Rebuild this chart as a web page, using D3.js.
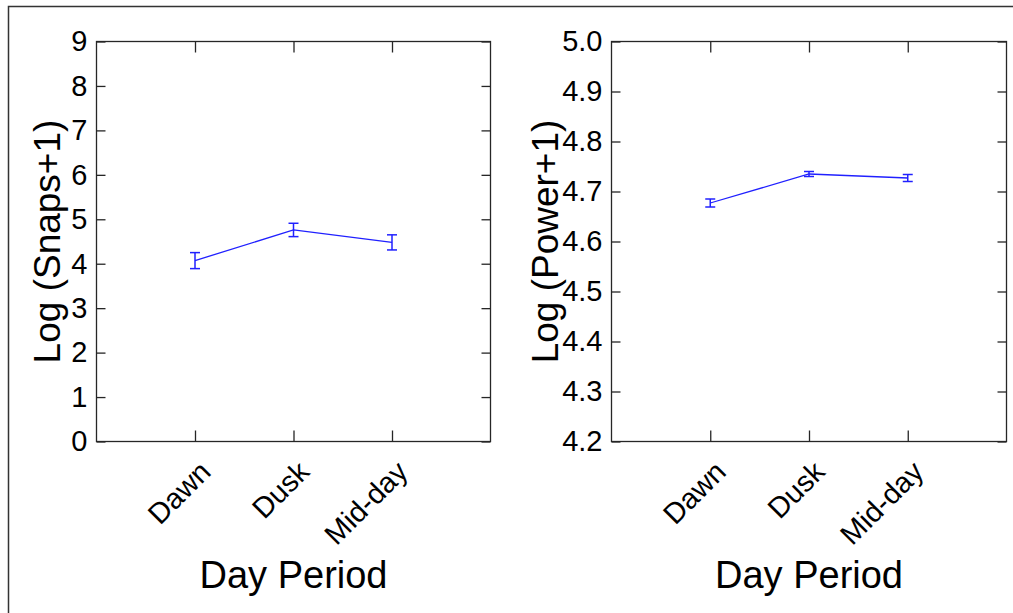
<!DOCTYPE html>
<html>
<head>
<meta charset="utf-8">
<script src="https://cdn.jsdelivr.net/npm/d3@7"></script>
<style>
  body { margin: 0; background: #fff; }
  text { font-family: "Liberation Sans", Arial, sans-serif; fill: #000; }
</style>
</head>
<body>
<div id="chart"></div>
<script>
// Categories and values
var periods = ["Dawn", "Dusk", "Mid-day"];
var snapsMean = [4.07, 4.76, 4.48];
var snapsErr = [0.18, 0.15, 0.17];
var powerMean = [4.677, 4.735, 4.727];
var powerErr = [0.008, 0.005, 0.007];
var snapsTicks = [0, 1, 2, 3, 4, 5, 6, 7, 8, 9];
var powerTicks = [4.2, 4.3, 4.4, 4.5, 4.6, 4.7, 4.8, 4.9, 5.0];

var svgWidth = 1013;
var svgHeight = 613;

var svg = d3.select("#chart")
  .append("svg")
  .attr("width", svgWidth)
  .attr("height", svgHeight);

// outer frame
svg.append("path")
  .attr("d", "M8.5,613 V6.5 H1013")
  .attr("fill", "none")
  .attr("stroke", "#333")
  .attr("stroke-width", 1.5);

var plotTop = 41.5;
var plotBottom = 441.5;

function drawPanel(left, right, means, errs, yDomain, yTicks, yFmt, yTitle, titleOffset) {
  var g = svg.append("g");

  var x = d3.scaleLinear().domain([0, 4]).range([left, right]);
  var y = d3.scaleLinear().domain(yDomain).range([plotBottom, plotTop]);

  // box
  g.append("rect")
    .attr("x", left)
    .attr("y", plotTop)
    .attr("width", right - left)
    .attr("height", plotBottom - plotTop)
    .attr("fill", "none")
    .attr("stroke", "#262626")
    .attr("stroke-width", 1.3);

  // y axis left with inward ticks
  var leftAxis = d3.axisLeft(y).tickValues(yTicks).tickFormat(d3.format(yFmt))
    .tickSize(-9).tickPadding(9);
  var yAxisG = g.append("g")
    .attr("transform", `translate(${left}, 0)`)
    .call(leftAxis);
  yAxisG.select(".domain").remove();
  yAxisG.selectAll("text").attr("font-size", "29px").attr("fill", "#000");
  yAxisG.selectAll("line").attr("stroke", "#262626").attr("stroke-width", 1.3);
  yAxisG.attr("font-family", null);

  // mirrored right ticks
  var rightAxis = d3.axisRight(y).tickValues(yTicks).tickSize(-9).tickFormat("");
  var yAxisR = g.append("g")
    .attr("transform", `translate(${right}, 0)`)
    .call(rightAxis);
  yAxisR.select(".domain").remove();
  yAxisR.selectAll("line").attr("stroke", "#262626").attr("stroke-width", 1.3);

  // x axis bottom
  var bottomAxis = d3.axisBottom(x).tickValues([1, 2, 3])
    .tickFormat(d => periods[d - 1]).tickSize(-11);
  var xAxisG = g.append("g")
    .attr("transform", `translate(0, ${plotBottom})`)
    .call(bottomAxis);
  xAxisG.select(".domain").remove();
  xAxisG.selectAll("line").attr("stroke", "#262626").attr("stroke-width", 1.3);
  xAxisG.attr("font-family", null);
  xAxisG.selectAll("text")
    .attr("font-size", "29px")
    .attr("fill", "#000")
    .attr("text-anchor", "end")
    .attr("dy", null)
    .attr("y", 0)
    .attr("transform", "translate(17, 32) rotate(-45)");

  // x ticks on top
  var topAxis = d3.axisTop(x).tickValues([1, 2, 3]).tickSize(-11).tickFormat("");
  var xAxisT = g.append("g")
    .attr("transform", `translate(0, ${plotTop})`)
    .call(topAxis);
  xAxisT.select(".domain").remove();
  xAxisT.selectAll("line").attr("stroke", "#262626").attr("stroke-width", 1.3);

  // line
  var line = d3.line()
    .x((d, i) => x(i + 1))
    .y(d => y(d));
  g.append("path")
    .datum(means)
    .attr("d", line)
    .attr("fill", "none")
    .attr("stroke", "#2020ff")
    .attr("stroke-width", 1.3);

  // error bars
  var eb = g.selectAll(".eb")
    .data(means)
    .enter()
    .append("g")
    .attr("class", "eb");
  eb.append("line")
    .attr("x1", (d, i) => x(i + 1))
    .attr("x2", (d, i) => x(i + 1))
    .attr("y1", (d, i) => y(d - errs[i]))
    .attr("y2", (d, i) => y(d + errs[i]));
  eb.append("line")
    .attr("x1", (d, i) => x(i + 1) - 5)
    .attr("x2", (d, i) => x(i + 1) + 5)
    .attr("y1", (d, i) => y(d - errs[i]))
    .attr("y2", (d, i) => y(d - errs[i]));
  eb.append("line")
    .attr("x1", (d, i) => x(i + 1) - 5)
    .attr("x2", (d, i) => x(i + 1) + 5)
    .attr("y1", (d, i) => y(d + errs[i]))
    .attr("y2", (d, i) => y(d + errs[i]));
  eb.selectAll("line")
    .attr("stroke", "#2020ff")
    .attr("stroke-width", 1.5);

  // axis titles
  g.append("text")
    .attr("transform", `translate(${(left + right) / 2}, 588)`)
    .attr("text-anchor", "middle")
    .attr("font-size", "38px")
    .text("Day Period");

  g.append("text")
    .attr("transform", `translate(${left - titleOffset}, ${(plotTop + plotBottom) / 2}) rotate(-90)`)
    .attr("text-anchor", "middle")
    .attr("font-size", "37px")
    .text(yTitle);
}

drawPanel(96.5, 490.5, snapsMean, snapsErr, [0, 9], snapsTicks, "d", "Log (Snaps+1)", 37);
drawPanel(611.5, 1006.5, powerMean, powerErr, [4.2, 5.0], powerTicks, ".1f", "Log (Power+1)", 54);
</script>
</body>
</html>
